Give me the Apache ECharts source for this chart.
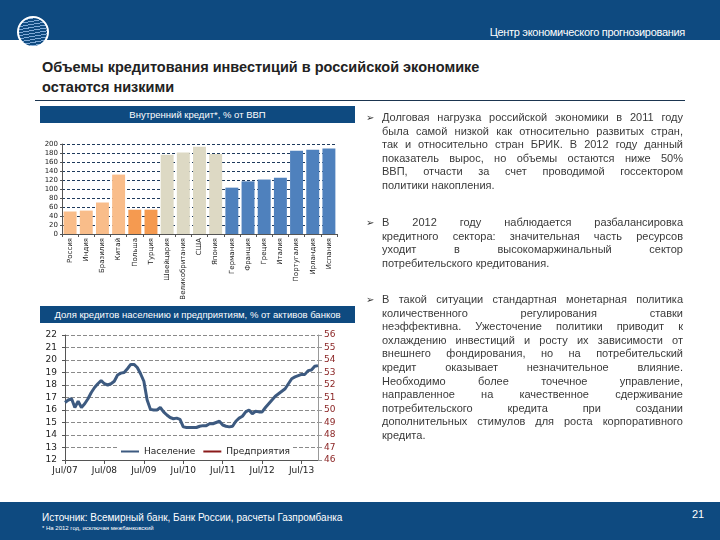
<!DOCTYPE html>
<html><head><meta charset="utf-8">
<script src="https://cdn.jsdelivr.net/npm/echarts@6/dist/echarts.min.js"></script>
<style>
body{margin:0;width:720px;height:540px;position:relative;overflow:hidden;background:#fff;font-family:'Liberation Sans',Arial,sans-serif;}
.abs{position:absolute;}
.band{background:#0E4A80;}
.hdr{color:#fff;font-family:'Liberation Sans',sans-serif;font-size:9.5px;text-align:center;line-height:17px;white-space:nowrap;}
.para{position:absolute;left:382px;width:301px;font-size:11px;color:#3a3a3a;line-height:13.6px;}
.para div{text-align:justify;text-align-last:justify;white-space:normal;}
.para div.last{text-align-last:left;}
.bul{position:absolute;left:-16px;top:0;font-family:'DejaVu Sans';font-size:10px;color:#333;}
</style></head>
<body>
<div class="abs band" style="left:0;top:0;width:720px;height:40px;"></div>
<div class="abs" style="left:17px;top:16px;width:28px;height:28px;border-radius:50%;border:2px solid #fff;background:repeating-linear-gradient(170deg,#0E4A80 0px,#0E4A80 2px,#7FA9D6 2px,#7FA9D6 3px);"></div>
<div class="abs" style="right:35px;top:26px;color:#fff;font-size:11px;letter-spacing:-0.3px;">Центр экономического прогнозирования</div>
<div class="abs" style="left:42px;top:57px;font-size:14.5px;font-weight:bold;color:#222;line-height:20px;">Объемы кредитования инвестиций в российской экономике<br>остаются низкими</div>
<div class="abs" style="left:35px;top:100px;width:650px;height:1px;background:#1B3550;"></div>
<div class="abs band hdr" style="left:40px;top:106px;width:315px;height:17px;">Внутренний кредит*, % от ВВП</div>
<div class="abs band hdr" style="left:40px;top:306px;width:315px;height:17px;">Доля кредитов населению и предприятиям, % от активов банков</div>

<div id="chart" class="abs" style="left:0;top:0;width:720px;height:540px;"></div>

<div class="para" style="top:111px;"><span class="bul">➢</span>
<div>Долговая нагрузка российской экономики в 2011 году</div>
<div>была самой низкой как относительно развитых стран,</div>
<div>так и относительно стран БРИК. В 2012 году данный</div>
<div>показатель вырос, но объемы остаются ниже 50%</div>
<div>ВВП, отчасти за счет проводимой госсектором</div>
<div class="last">политики накопления.</div>
</div>
<div class="para" style="top:216px;"><span class="bul">➢</span>
<div>В 2012 году наблюдается разбалансировка</div>
<div>кредитного сектора: значительная часть ресурсов</div>
<div>уходит в высокомаржинальный сектор</div>
<div class="last">потребительского кредитования.</div>
</div>
<div class="para" style="top:293px;"><span class="bul">➢</span>
<div>В такой ситуации стандартная монетарная политика</div>
<div>количественного регулирования ставки</div>
<div>неэффективна. Ужесточение политики приводит к</div>
<div>охлаждению инвестиций и росту их зависимости от</div>
<div>внешнего фондирования, но на потребительский</div>
<div>кредит оказывает незначительное влияние.</div>
<div>Необходимо более точечное управление,</div>
<div>направленное на качественное сдерживание</div>
<div>потребительского кредита при создании</div>
<div>дополнительных стимулов для роста корпоративного</div>
<div class="last">кредита.</div>
</div>

<div class="abs band" style="left:0;top:502px;width:720px;height:38px;"></div>
<div class="abs" style="left:42px;top:512px;color:#fff;font-size:10px;">Источник: Всемирный банк, Банк России, расчеты Газпромбанка</div>
<div class="abs" style="left:42px;top:525px;color:#fff;font-size:6px;">* На 2012 год, исключая межбанковский</div>
<div class="abs" style="left:692px;top:508px;color:#fff;font-size:11px;">21</div>

<script>
// Bar chart data
const countries = ['Россия','Индия','Бразилия','Китай','Польша','Турция','Швейцария','Великобритания','США','Япония','Германия','Франция','Греция','Италия','Португалия','Ирландия','Испания'];
const creditGDP = [50,52,70,132,54,54,176,181,194,178,103,117,121,125,185,187,190];
const groups = ['bric','bric','bric','bric','em','em','dev','dev','dev','dev','euro','euro','euro','euro','euro','euro','euro'];

// Line chart data (monthly, Jul 2007 - Dec 2013)
const household = [16.6,16.8,16.9,16.2,16.7,16.2,16.5,16.9,17.4,17.8,18.1,18.35,
  18.1,18.0,18.1,18.3,18.8,18.95,19.0,19.3,19.65,19.65,19.4,18.9,
  18.3,16.8,16.05,16.0,16.0,16.2,15.85,15.6,15.4,15.3,15.35,15.25,
  14.65,14.6,14.6,14.6,14.6,14.7,14.75,14.75,14.9,14.9,15.0,15.1,
  14.8,14.7,14.65,14.7,15.1,15.35,15.5,15.85,16.0,15.7,15.9,15.85,
  15.85,16.2,16.5,16.8,17.1,17.3,17.5,17.7,18.1,18.5,18.65,18.75,
  18.85,18.85,19.15,19.2,19.5,19.55];
const enterprises = [];
const monthNames = ['Jan','Feb','Mar','Apr','May','Jun','Jul','Aug','Sep','Oct','Nov','Dec'];
const months = [];
for (let i = 0; i < household.length; i++) {
  const m = (6 + i) % 12, y = 7 + Math.floor((6 + i) / 12);
  months.push(monthNames[m] + '/' + String(y).padStart(2, '0'));
}

const groupColors = {bric:'#F9BD8A', em:'#F59A50', dev:'#DDD9C4', euro:'#4F81BD'};
const chart = echarts.init(document.getElementById('chart'), null, {renderer:'canvas'});
const lab = {fontFamily:'DejaVu Sans', color:'#222'};
chart.setOption({
  animation:false,
  backgroundColor:'transparent',
  grid:[{left:62, top:144, width:275, height:90},{left:65, top:335, width:253, height:125}],
  legend:{data:['Население','Предприятия'], left:118, top:446, icon:'rect', itemWidth:18, itemHeight:2, itemGap:8,
    backgroundColor:'#fff', padding:[1,3], textStyle:Object.assign({fontSize:9}, lab)},
  xAxis:[
    {type:'category', gridIndex:0, data:countries,
      axisLabel:Object.assign({rotate:90, fontSize:7, interval:0, margin:4}, lab),
      axisLine:{lineStyle:{color:'#555'}}, axisTick:{show:true, length:3, lineStyle:{color:'#555'}}},
    {type:'category', gridIndex:1, data:months, boundaryGap:false,
      axisLabel:Object.assign({fontSize:9, interval:11, margin:6}, lab),
      axisLine:{lineStyle:{color:'#555'}}, axisTick:{show:true, interval:11, length:4, lineStyle:{color:'#555'}}}
  ],
  yAxis:[
    {type:'value', gridIndex:0, min:0, max:200, interval:20,
      axisLabel:Object.assign({fontSize:7, margin:4}, lab),
      axisLine:{show:true, lineStyle:{color:'#555'}}, axisTick:{show:true, length:2},
      splitLine:{lineStyle:{type:[3,2], color:'#1E3A5C'}}},
    {type:'value', gridIndex:1, min:12, max:22, interval:1,
      axisLabel:Object.assign({fontSize:9, margin:8}, lab),
      axisLine:{show:true, lineStyle:{color:'#555'}}, axisTick:{show:true, length:3},
      splitLine:{lineStyle:{type:[4,2], color:'#8a8a8a'}}},
    {type:'value', gridIndex:1, position:'right', min:46, max:56, interval:1,
      axisLabel:{fontSize:9, margin:6, fontFamily:'DejaVu Sans', color:'#8B2525'},
      axisLine:{show:true, lineStyle:{color:'#999'}}, axisTick:{show:true, length:4, lineStyle:{color:'#999'}},
      splitLine:{show:false}}
  ],
  series:[
    {type:'bar', xAxisIndex:0, yAxisIndex:0, barCategoryGap:'20%',
      data:creditGDP.map((v,i)=>({value:v, itemStyle:{color:groupColors[groups[i]]}}))},
    {name:'Население', type:'line', xAxisIndex:1, yAxisIndex:1, data:household, symbol:'none',
      color:'#3D5A80', lineStyle:{width:3, color:'#3D5A80'}},
    {name:'Предприятия', type:'line', xAxisIndex:1, yAxisIndex:2, data:enterprises, symbol:'none',
      color:'#8B1A1A', lineStyle:{width:2, color:'#8B1A1A'}}
  ]
});
</script>
</body></html>
